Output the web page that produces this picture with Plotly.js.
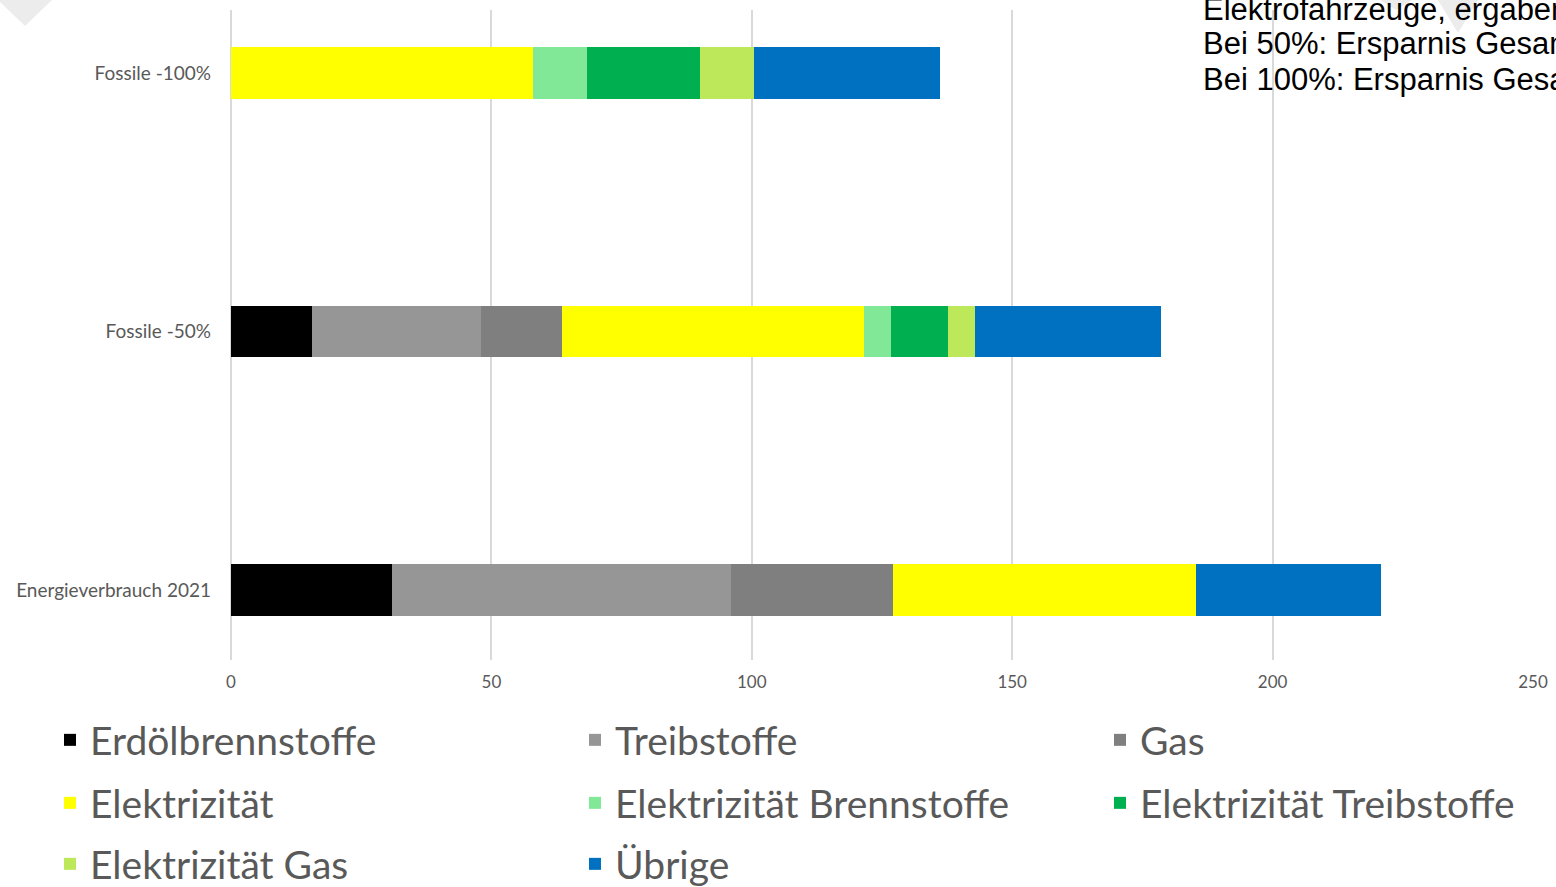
<!DOCTYPE html>
<html>
<head>
<meta charset="utf-8">
<script src="https://cdn.plot.ly/plotly-3.0.1.min.js"></script>
<style>html,body{margin:0;padding:0;background:#fff;}#chart{width:1556px;height:887px;}</style>
</head>
<body>
<div id="chart"></div>
<script>
const categories = ["Energieverbrauch 2021", "Fossile -50%", "Fossile -100%"];
const seriesNames = ["Erdölbrennstoffe", "Treibstoffe", "Gas", "Elektrizität", "Elektrizität Brennstoffe", "Elektrizität Treibstoffe", "Elektrizität Gas", "Übrige"];
const erdoel = [31, 15.5, 0];
const treibstoffe = [65, 32.5, 0];
const gas = [31.2, 15.6, 0];
const elektrizitaet = [58, 58, 58];
const elBrennstoffe = [0, 5.2, 10.4];
const elTreibstoffe = [0, 10.8, 21.6];
const elGas = [0, 5.2, 10.4];
const uebrige = [35.7, 35.7, 35.7];
const xTicks = [0, 50, 100, 150, 200, 250];
const noteLines = ["Elektrofahrzeuge, ergaben", "Bei 50%: Ersparnis Gesamt", "Bei 100%: Ersparnis Gesamt"];

const values = [erdoel, treibstoffe, gas, elektrizitaet, elBrennstoffe, elTreibstoffe, elGas, uebrige];
const colors = ["#000000", "#969696", "#7f7f7f", "#ffff00", "#80e897", "#00b050", "#bce85a", "#0070c0"];

const W = 1556, H = 887, L = 231, R = 23, T = 10, B = 227;
const pw = W - L - R, ph = H - T - B;
const px = x => (x - L) / pw;
const py = y => (H - B - y) / ph;

// legend grid: column text starts and row centres (pixels)
const legCols = [50, 575, 1100];
const legRows = [740, 803, 864];
const legId = i => (i === 0 ? "legend" : "legend" + (i + 1));

const traces = seriesNames.map((n, i) => ({
  type: "bar", orientation: "h", name: n,
  y: categories, x: values[i],
  marker: {color: colors[i], line: {width: 0}},
  legend: legId(i),
  hoverinfo: "x+name"
}));

const annotations = noteLines.map((t, i) => ({
  xref: "paper", yref: "paper", x: px(1201), y: py([9, 44, 80][i]),
  xanchor: "left", yanchor: "middle", showarrow: false, text: t,
  font: {family: "Liberation Sans, Arial, sans-serif", size: 31, color: "#000000"}
}));

function tri(x1, x2, yTop, tipY) {
  const xm = (x1 + x2) / 2;
  return {type: "path", xref: "paper", yref: "paper", layer: "below",
    path: `M ${px(x1)} ${py(yTop)} L ${px(x2)} ${py(yTop)} L ${px(xm)} ${py(tipY)} Z`,
    fillcolor: "#ececec", line: {width: 0}};
}

const layout = {
  width: W, height: H,
  margin: {l: L, r: R, t: T, b: B, pad: 0, autoexpand: false},
  paper_bgcolor: "#ffffff", plot_bgcolor: "#ffffff",
  barmode: "stack", bargap: 0.8,
  showlegend: true,
  xaxis: {range: [0, 250], tickvals: xTicks, ticktext: xTicks.map(String),
    showgrid: true, gridcolor: "#d9d9d9", gridwidth: 2,
    zeroline: true, zerolinecolor: "#d9d9d9", zerolinewidth: 2,
    showline: false, ticks: "", ticklabelstandoff: 10,
    tickfont: {family: "Lato, sans-serif", size: 17, color: "#595959"}},
  yaxis: {type: "category", categoryorder: "array", categoryarray: categories,
    range: [-0.271, 2.244], showgrid: false, zeroline: false, showline: false,
    ticks: "", ticklabelstandoff: 19,
    tickfont: {family: "Lato, sans-serif", size: 19, color: "#595959"}},
  annotations: annotations,
  shapes: [tri(-2, 52, 0, 26), tri(1380, 1412, 0, 10), tri(1438, 1478, 0, 33)]
};

seriesNames.forEach((n, i) => {
  layout[legId(i)] = {
    orientation: "h", xanchor: "left", yanchor: "middle",
    x: px(legCols[i % 3]), y: py(legRows[Math.floor(i / 3)]),
    font: {family: "Lato, sans-serif", size: 39, color: "#595959"},
    bgcolor: "rgba(0,0,0,0)", itemwidth: 30
  };
});

Plotly.newPlot("chart", traces, layout, {displayModeBar: false, staticPlot: true});
</script>
</body>
</html>
